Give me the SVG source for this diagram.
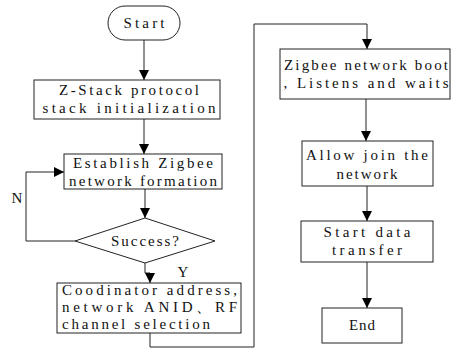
<svg xmlns="http://www.w3.org/2000/svg" width="455" height="349" viewBox="0 0 455 349">
<defs>
<marker id="ah" viewBox="0 0 10 10" refX="10" refY="5" markerWidth="10" markerHeight="10" markerUnits="userSpaceOnUse" orient="auto">
<path d="M0,0 L10,5 L0,10 Z" fill="#000"/>
</marker>
</defs>
<style>
.box{fill:#fff;stroke:#222;stroke-width:1}
.t{font-family:"Liberation Serif","DejaVu Serif",serif;font-size:15px;fill:#111;text-anchor:middle}
.l{text-anchor:start}
.c{fill:none;stroke:#222;stroke-width:1}
</style>
<rect width="455" height="349" fill="#fff"/>
<g id="connectors">
<path class="c" d="M144,40 V80" marker-end="url(#ah)"/>
<path class="c" d="M144,119 V154" marker-end="url(#ah)"/>
<path class="c" d="M145,189 V218" marker-end="url(#ah)"/>
<path class="c" d="M75,241 H26 V172 H64" marker-end="url(#ah)"/>
<path class="c" d="M145,263 V273 H150 V283" marker-end="url(#ah)"/>
<path class="c" d="M150,333 V347 H254 V24 H367 V49" marker-end="url(#ah)"/>
<path class="c" d="M366,99 V141" marker-end="url(#ah)"/>
<path class="c" d="M367,186 V221" marker-end="url(#ah)"/>
<path class="c" d="M367,262 V308" marker-end="url(#ah)"/>
<text class="t" x="17" y="203">N</text>
<text class="t" x="183" y="277">Y</text>
</g>
<g id="start">
<rect class="box" x="108" y="6" width="72" height="34" rx="17"/>
<text class="t" x="144" y="28" textLength="41" lengthAdjust="spacing">Start</text>
</g>
<g id="init">
<rect class="box" x="34" y="80" width="186" height="39"/>
<text class="t" x="129" y="95" textLength="140" lengthAdjust="spacing">Z-Stack protocol</text>
<text class="t" x="129" y="113" textLength="173" lengthAdjust="spacing">stack initialization</text>
</g>
<g id="establish">
<rect class="box" x="64" y="154" width="158" height="35"/>
<text class="t" x="143" y="168" textLength="140" lengthAdjust="spacing">Establish Zigbee</text>
<text class="t" x="143" y="186" textLength="148" lengthAdjust="spacing">network formation</text>
</g>
<g id="success">
<path class="box" d="M145,218 L215,241 L145,263 L75,241 Z"/>
<text class="t" x="145" y="246" textLength="68" lengthAdjust="spacing">Success?</text>
</g>
<g id="coord">
<rect class="box" x="57" y="283" width="184" height="50"/>
<text class="t l" x="62" y="295" textLength="175" lengthAdjust="spacing">Coodinator address,</text>
<text class="t l" x="62" y="312" textLength="175" lengthAdjust="spacing">network ANID、RF</text>
<text class="t l" x="62" y="329" textLength="148" lengthAdjust="spacing">channel selection</text>
</g>
<g id="boot">
<rect class="box" x="280" y="49" width="170" height="50"/>
<text class="t" x="366" y="70" textLength="164" lengthAdjust="spacing">Zigbee network boot</text>
<text class="t" x="366" y="88" textLength="165" lengthAdjust="spacing">, Listens and waits</text>
</g>
<g id="allow">
<rect class="box" x="302" y="141" width="131" height="45"/>
<text class="t" x="367" y="160" textLength="122" lengthAdjust="spacing">Allow join the</text>
<text class="t" x="367" y="179" textLength="61" lengthAdjust="spacing">network</text>
</g>
<g id="transfer">
<rect class="box" x="301" y="221" width="132" height="41"/>
<text class="t" x="367" y="237" textLength="87" lengthAdjust="spacing">Start data</text>
<text class="t" x="367" y="255" textLength="70" lengthAdjust="spacing">transfer</text>
</g>
<g id="end">
<rect class="box" x="322" y="308" width="80" height="35"/>
<text class="t" x="362" y="330" textLength="26" lengthAdjust="spacing">End</text>
</g>
</svg>
